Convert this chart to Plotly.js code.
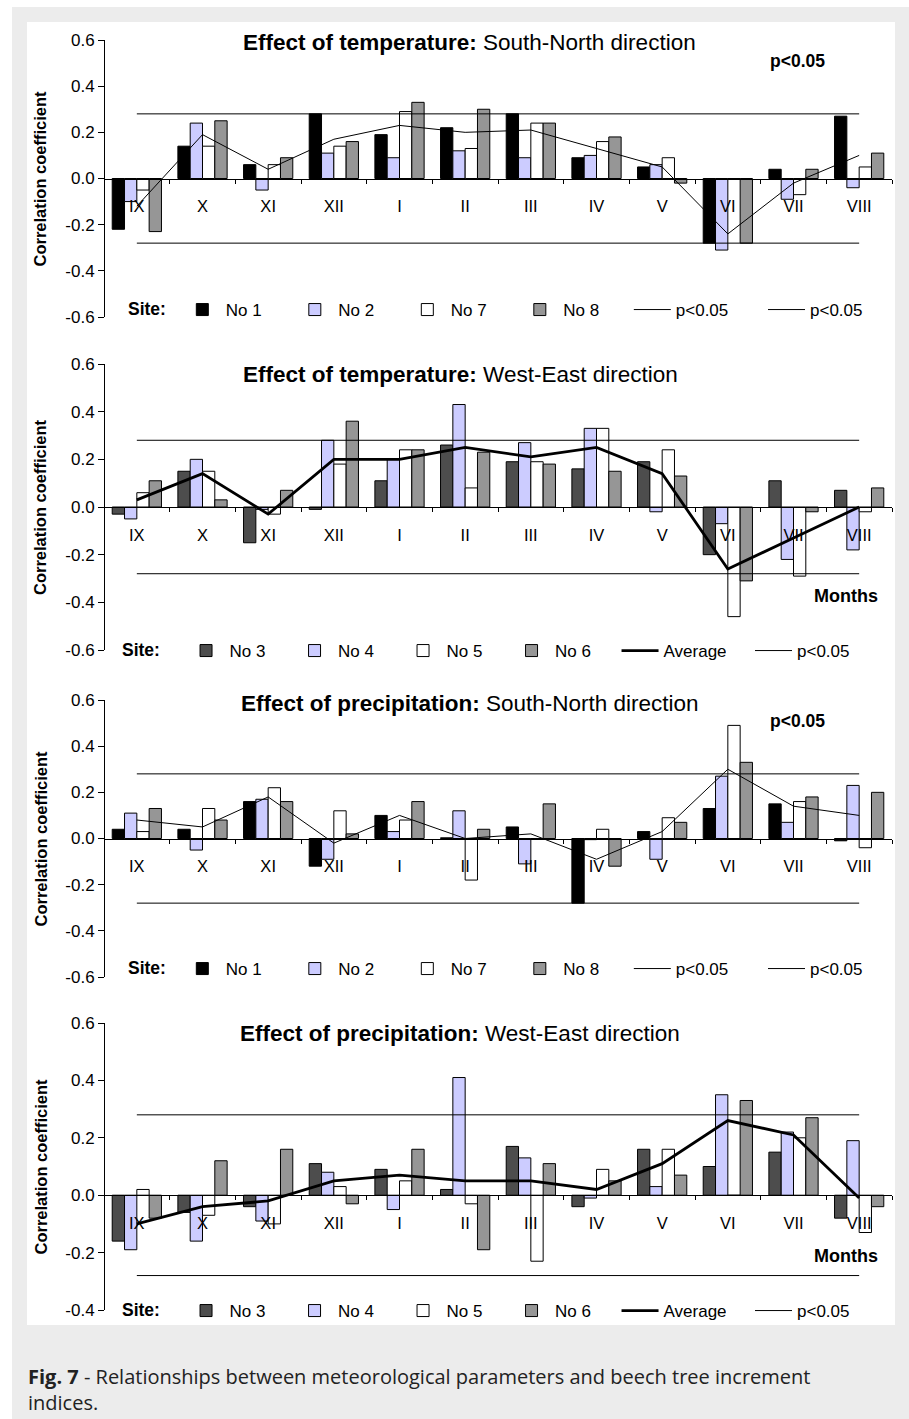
<!DOCTYPE html>
<html>
<head>
<meta charset="utf-8">
<script src="https://cdn.plot.ly/plotly-3.0.1.min.js"></script>
<style>
html,body{margin:0;padding:0;background:#fff;}
#chart{width:909px;height:1419px;}
</style>
</head>
<body>
<div id="chart"></div>
<script>
// ---------- DATA ----------
const months = ['IX','X','XI','XII','I','II','III','IV','V','VI','VII','VIII'];
const yTickVals = [-0.6,-0.4,-0.2,0,0.2,0.4,0.6];
const yTickText = ['-0.6','-0.4','-0.2','0.0','0.2','0.4','0.6'];
const pLevel = 0.28;

// Panel 1: Effect of temperature, South-North direction
const tempSN_no1 = [-0.22, 0.14, 0.06, 0.28, 0.19, 0.22, 0.28, 0.09, 0.05, -0.28, 0.04, 0.27];
const tempSN_no2 = [-0.10, 0.24, -0.05, 0.11, 0.09, 0.12, 0.09, 0.10, 0.06, -0.31, -0.09, -0.04];
const tempSN_no7 = [-0.05, 0.14, 0.06, 0.14, 0.29, 0.13, 0.24, 0.16, 0.09, 0.00, -0.07, 0.05];
const tempSN_no8 = [-0.23, 0.25, 0.09, 0.16, 0.33, 0.30, 0.24, 0.18, -0.02, -0.28, 0.04, 0.11];
const tempSN_line = [-0.12, 0.19, 0.04, 0.17, 0.23, 0.20, 0.21, 0.13, 0.05, -0.24, -0.02, 0.10];

// Panel 2: Effect of temperature, West-East direction
const tempWE_no3 = [-0.03, 0.15, -0.15, -0.01, 0.11, 0.26, 0.19, 0.16, 0.19, -0.20, 0.11, 0.07];
const tempWE_no4 = [-0.05, 0.20, -0.01, 0.28, 0.20, 0.43, 0.27, 0.33, -0.02, -0.07, -0.22, -0.18];
const tempWE_no5 = [0.06, 0.15, -0.03, 0.18, 0.24, 0.08, 0.19, 0.33, 0.24, -0.46, -0.29, -0.02];
const tempWE_no6 = [0.11, 0.03, 0.07, 0.36, 0.24, 0.23, 0.18, 0.15, 0.13, -0.31, -0.02, 0.08];
const tempWE_avg = [0.03, 0.14, -0.03, 0.20, 0.20, 0.25, 0.21, 0.25, 0.14, -0.26, -0.13, 0.00];

// Panel 3: Effect of precipitation, South-North direction
const precSN_no1 = [0.04, 0.04, 0.16, -0.12, 0.10, 0.003, 0.05, -0.28, 0.03, 0.13, 0.15, -0.01];
const precSN_no2 = [0.11, -0.05, 0.17, -0.09, 0.03, 0.12, -0.11, -0.005, -0.09, 0.27, 0.07, 0.23];
const precSN_no7 = [0.03, 0.13, 0.22, 0.12, 0.08, -0.18, 0.00, 0.04, 0.09, 0.49, 0.16, -0.04];
const precSN_no8 = [0.13, 0.08, 0.16, 0.02, 0.16, 0.04, 0.15, -0.12, 0.07, 0.33, 0.18, 0.20];
const precSN_line = [0.08, 0.05, 0.18, -0.02, 0.10, 0.00, 0.02, -0.09, 0.03, 0.30, 0.14, 0.10];

// Panel 4: Effect of precipitation, West-East direction
const precWE_no3 = [-0.16, -0.06, -0.04, 0.11, 0.09, 0.02, 0.17, -0.04, 0.16, 0.10, 0.15, -0.08];
const precWE_no4 = [-0.19, -0.16, -0.09, 0.08, -0.05, 0.41, 0.13, -0.01, 0.03, 0.35, 0.22, 0.19];
const precWE_no5 = [0.02, -0.07, -0.10, 0.03, 0.05, -0.03, -0.23, 0.09, 0.16, 0.00, 0.20, -0.13];
const precWE_no6 = [-0.08, 0.12, 0.16, -0.03, 0.16, -0.19, 0.11, 0.05, 0.07, 0.33, 0.27, -0.04];
const precWE_avg = [-0.10, -0.04, -0.02, 0.05, 0.07, 0.05, 0.05, 0.02, 0.11, 0.26, 0.21, -0.01];

const panelTitles = [
  ['Effect of temperature:', 'South-North direction'],
  ['Effect of temperature:', 'West-East direction'],
  ['Effect of precipitation:', 'South-North direction'],
  ['Effect of precipitation:', 'West-East direction']
];
const yTitle = 'Correlation coefficient';
const caption = '<b>Fig. 7</b> - Relationships between meteorological parameters and beech tree increment<br>indices.';

// ---------- STYLE / LAYOUT ----------
const W = 909, H = 1419;
const FONT = 'Liberation Sans, Arial, sans-serif';
const px = x => x / W;
const py = y => 1 - y / H;
const xdom = [px(104), px(892)];

const panels = [
  {top: 40,   bot: 317,  ymin: -0.6, ymax: 0.6, legY: 310,  legX: 126, entry: 60.5, pad: 1, extraX: 763, titleX: 470, titleY: 43},
  {top: 364,  bot: 650,  ymin: -0.6, ymax: 0.6, legY: 651,  legX: 120, entry: 56.5, pad: 3, extraX: 750, titleX: 460, titleY: 374},
  {top: 700,  bot: 977,  ymin: -0.6, ymax: 0.6, legY: 969,  legX: 126, entry: 60.5, pad: 1, extraX: 763, titleX: 470, titleY: 703},
  {top: 1023, bot: 1310, ymin: -0.4, ymax: 0.6, legY: 1311, legX: 120, entry: 56.5, pad: 3, extraX: 750, titleX: 460, titleY: 1033}
];

const C = {black: '#000000', dark: '#4d4d4d', lav: '#ccccff', white: '#ffffff', gray: '#969696'};

const traces = [];
function sfx(i) { return i === 0 ? '' : String(i + 1); }
function bar(i, name, vals, color) {
  traces.push({
    type: 'bar', x: months, y: vals, name: name,
    marker: {color: color, line: {color: '#000', width: 1}},
    xaxis: 'x' + sfx(i), yaxis: 'y' + sfx(i), legend: 'legend' + sfx(i)
  });
}
function line(i, name, xs, ys, width, showlegend, legendId) {
  traces.push({
    type: 'scatter', mode: 'lines', x: xs, y: ys, name: name,
    line: {color: '#000', width: width}, showlegend: showlegend,
    xaxis: 'x' + sfx(i), yaxis: 'y' + sfx(i), legend: legendId || ('legend' + sfx(i))
  });
}
const ends = [months[0], months[months.length - 1]];

// panel 1
bar(0, 'No 1', tempSN_no1, C.black);
bar(0, 'No 2', tempSN_no2, C.lav);
bar(0, 'No 7', tempSN_no7, C.white);
bar(0, 'No 8', tempSN_no8, C.gray);
line(0, 'p<0.05', months, tempSN_line, 1, false);
line(0, 'p<0.05', ends, [pLevel, pLevel], 1, true);
line(0, 'p<0.05', ends, [-pLevel, -pLevel], 1, true, 'legend5');
// panel 2
bar(1, 'No 3', tempWE_no3, C.dark);
bar(1, 'No 4', tempWE_no4, C.lav);
bar(1, 'No 5', tempWE_no5, C.white);
bar(1, 'No 6', tempWE_no6, C.gray);
line(1, 'Average', months, tempWE_avg, 2.8, true);
line(1, 'p<0.05', ends, [pLevel, pLevel], 1, true, 'legend6');
line(1, 'p<0.05', ends, [-pLevel, -pLevel], 1, false);
// panel 3
bar(2, 'No 1', precSN_no1, C.black);
bar(2, 'No 2', precSN_no2, C.lav);
bar(2, 'No 7', precSN_no7, C.white);
bar(2, 'No 8', precSN_no8, C.gray);
line(2, 'p<0.05', months, precSN_line, 1, false);
line(2, 'p<0.05', ends, [pLevel, pLevel], 1, true);
line(2, 'p<0.05', ends, [-pLevel, -pLevel], 1, true, 'legend7');
// panel 4
bar(3, 'No 3', precWE_no3, C.dark);
bar(3, 'No 4', precWE_no4, C.lav);
bar(3, 'No 5', precWE_no5, C.white);
bar(3, 'No 6', precWE_no6, C.gray);
line(3, 'Average', months, precWE_avg, 2.8, true);
line(3, 'p<0.05', ends, [pLevel, pLevel], 1, true, 'legend8');
line(3, 'p<0.05', ends, [-pLevel, -pLevel], 1, false);

const layout = {
  width: W, height: H,
  margin: {l: 0, r: 0, t: 0, b: 0},
  paper_bgcolor: '#ffffff',
  plot_bgcolor: 'rgba(0,0,0,0)',
  barmode: 'group', bargap: 0.25, bargroupgap: 0,
  font: {family: FONT, color: '#000', size: 16},
  hovermode: false,
  shapes: [
    {type: 'rect', xref: 'paper', yref: 'paper', x0: px(12), x1: 1, y0: 0, y1: py(7),
     fillcolor: '#ececec', line: {width: 0}, layer: 'below'},
    {type: 'rect', xref: 'paper', yref: 'paper', x0: px(27), x1: px(895), y0: py(1325), y1: py(22),
     fillcolor: '#ffffff', line: {width: 0}, layer: 'below'}
  ],
  annotations: []
};

const legFont = {family: FONT, size: 17, color: '#000'};
panels.forEach((p, i) => {
  const s = sfx(i);
  const zeroY = p.top + (p.ymax / (p.ymax - p.ymin)) * (p.bot - p.top);
  layout['xaxis' + s] = {
    type: 'category', categoryorder: 'array', categoryarray: months,
    range: [-0.5, months.length - 0.5], domain: xdom,
    anchor: 'free', position: py(zeroY),
    showline: true, linecolor: '#000', linewidth: 1,
    ticks: 'outside', ticklen: 4, tickcolor: '#000', tickwidth: 1, tickson: 'boundaries',
    showgrid: false, zeroline: false,
    tickfont: {family: FONT, size: 16.5, color: '#000'}, ticklabelstandoff: 13,
    fixedrange: true
  };
  // overlay axis for the upward half of the crossing tick marks
  layout['xaxis' + (i + 5)] = {
    overlaying: 'x' + s, type: 'linear', range: [-0.5, months.length - 0.5], domain: xdom,
    anchor: 'free', position: py(zeroY),
    tick0: -0.5, dtick: 1, ticks: 'inside', ticklen: 4, tickcolor: '#000', tickwidth: 1,
    showticklabels: false, showline: false, showgrid: false, zeroline: false, fixedrange: true
  };
  layout['yaxis' + s] = {
    domain: [py(p.bot), py(p.top)], range: [p.ymin, p.ymax],
    anchor: 'free', position: xdom[0],
    tickvals: yTickVals.filter(v => v >= p.ymin - 1e-9), ticktext: yTickText.filter((t, k) => yTickVals[k] >= p.ymin - 1e-9),
    showline: true, linecolor: '#000', linewidth: 1,
    ticks: 'outside', ticklen: 6, tickcolor: '#000',
    showgrid: false, zeroline: false,
    tickfont: {family: FONT, size: 17, color: '#000'}, fixedrange: true
  };
  layout['legend' + s] = {
    orientation: 'h', x: px(p.legX), xanchor: 'left', y: py(p.legY), yanchor: 'middle',
    bgcolor: 'rgba(0,0,0,0)', borderwidth: 0,
    title: {text: '<b>Site:</b>' + '&nbsp;'.repeat(p.pad), side: 'left', font: {family: FONT, size: 17.5, color: '#000'}},
    font: legFont,
    itemwidth: 37, entrywidth: p.entry, entrywidthmode: 'pixels', tracegroupgap: 0,
    traceorder: 'normal', itemclick: false, itemdoubleclick: false
  };
  layout['legend' + (i + 5)] = {
    orientation: 'h', x: px(p.extraX), xanchor: 'left', y: py(p.legY), yanchor: 'middle',
    bgcolor: 'rgba(0,0,0,0)', borderwidth: 0, font: legFont,
    itemwidth: 37, itemclick: false, itemdoubleclick: false
  };
  layout.annotations.push({
    xref: 'paper', yref: 'paper', x: px(p.titleX), y: py(p.titleY), xanchor: 'center', yanchor: 'middle',
    text: '<b>' + panelTitles[i][0] + '</b> ' + panelTitles[i][1], showarrow: false,
    font: {family: FONT, size: 22.5, color: '#000'}
  });
  layout.annotations.push({
    xref: 'paper', yref: 'paper', x: px(40), y: py((p.top + p.bot) / 2), xanchor: 'center', yanchor: 'middle',
    text: '<b>' + yTitle + '</b>', textangle: -90, showarrow: false,
    font: {family: FONT, size: 16.5, color: '#000'}
  });
});

// p<0.05 labels (panels 1 and 3) and "Months" labels (panels 2 and 4)
[[797, 61], [797, 721]].forEach(([x, y]) => layout.annotations.push({
  xref: 'paper', yref: 'paper', x: px(x), y: py(y), xanchor: 'center', yanchor: 'middle',
  text: '<b>p<0.05</b>', showarrow: false, font: {family: FONT, size: 17.5, color: '#000'}
}));
[[846, 596], [846, 1256]].forEach(([x, y]) => layout.annotations.push({
  xref: 'paper', yref: 'paper', x: px(x), y: py(y), xanchor: 'center', yanchor: 'middle',
  text: '<b>Months</b>', showarrow: false, font: {family: FONT, size: 18, color: '#000'}
}));
// caption
layout.annotations.push({
  xref: 'paper', yref: 'paper', x: px(26), y: py(1389), xanchor: 'left', yanchor: 'middle', align: 'left',
  text: caption, showarrow: false,
  font: {family: 'Open Sans, sans-serif', size: 20, color: '#222'}
});

Plotly.newPlot('chart', traces, layout, {displayModeBar: false, staticPlot: true});
</script>
</body>
</html>
